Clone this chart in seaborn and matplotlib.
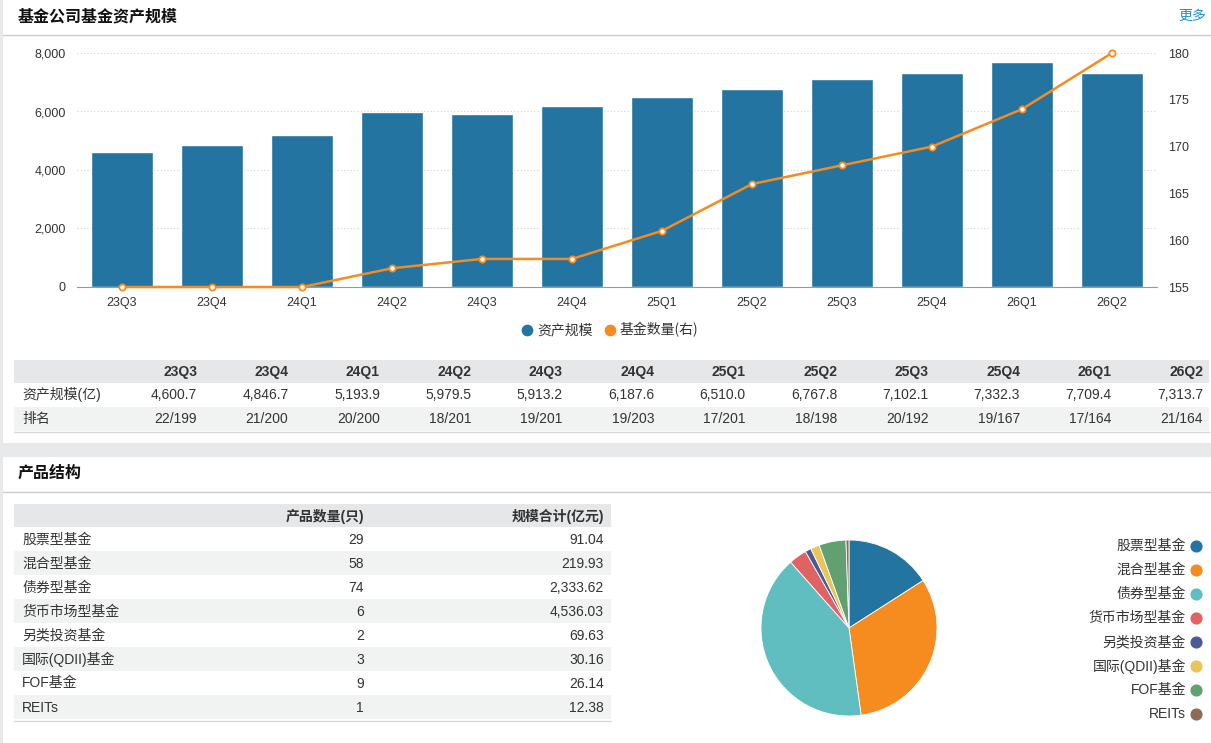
import matplotlib
matplotlib.use("Agg")
import matplotlib.pyplot as plt
from matplotlib.patches import Rectangle
import seaborn as sns
import numpy as np
import pandas as pd

# ---- data ----
quarters = ["23Q3", "23Q4", "24Q1", "24Q2", "24Q3", "24Q4",
            "25Q1", "25Q2", "25Q3", "25Q4", "26Q1", "26Q2"]
aum = [4600.7, 4846.7, 5193.9, 5979.5, 5913.2, 6187.6,
       6510.0, 6767.8, 7102.1, 7332.3, 7709.4, 7313.7]
fund_count = [155, 155, 155, 157, 158, 158, 161, 166, 168, 170, 174, 180]
rank = ["22/199", "21/200", "20/200", "18/201", "19/201", "19/203",
        "17/201", "18/198", "20/192", "19/167", "17/164", "21/164"]

product_types = ["股票型基金", "混合型基金", "债券型基金", "货币市场型基金",
                 "另类投资基金", "国际(QDII)基金", "FOF基金", "REITs"]
product_count = [29, 58, 74, 6, 2, 3, 9, 1]
product_scale = [91.04, 219.93, 2333.62, 4536.03, 69.63, 30.16, 26.14, 12.38]

BLUE = "#2374a0"
ORANGE = "#f68b1f"
pie_colors = ["#2374a0", "#f68b1f", "#60bec0", "#e06262",
              "#4b5a96", "#e8c65a", "#62a072", "#8c6c55"]

sns.set_style("white")
plt.rcParams['font.family'] = ['Liberation Sans', 'Noto Sans CJK SC', 'DejaVu Sans']
plt.rcParams['axes.unicode_minus'] = False

W, H = 1211, 743
fig = plt.figure(figsize=(W / 100, H / 100), dpi=100)
fig.patch.set_facecolor("#e8e9eb")


def px_rect(x0, y0, x1, y1):
    """pixel box (top-left origin) -> figure rect"""
    return [x0 / W, 1 - y1 / H, (x1 - x0) / W, (y1 - y0) / H]


# background layer in pixel coords
bg = fig.add_axes([0, 0, 1, 1], zorder=0)
bg.set_xlim(0, W)
bg.set_ylim(H, 0)
bg.axis("off")

TXT = "#333333"
CJK = ['Noto Sans CJK SC', 'DejaVu Sans']

# panels
bg.add_patch(Rectangle((3, 0), W - 3, 443, facecolor="white", edgecolor="none"))
bg.add_patch(Rectangle((3, 457), W - 3, H - 457, facecolor="white", edgecolor="none"))

# panel titles
bg.text(18, 16, "基金公司基金资产规模", fontsize=11.5, fontweight="bold",
        color="#111111", va="center", family=CJK)
bg.text(1206, 16, "更多", fontsize=10, color="#1a8fc8", va="center", ha="right", family=CJK)
bg.plot([3, W], [34.5, 34.5], color="#cccccc", lw=1)
bg.text(18, 473, "产品结构", fontsize=11.5, fontweight="bold",
        color="#111111", va="center", family=CJK)
bg.plot([3, W], [491.5, 491.5], color="#cccccc", lw=1)

# ---- bar + line chart ----
df = pd.DataFrame({"quarter": quarters, "aum": aum, "count": fund_count})

ax = fig.add_axes(px_rect(77, 53, 1157, 287), zorder=2)
ax.patch.set_alpha(0)
sns.barplot(data=df, x="quarter", y="aum", color=BLUE, saturation=1,
            width=0.69, ax=ax, zorder=2)
ax.set_xlim(-0.5, len(quarters) - 0.5)
ax.set_ylim(0, 8000)
ax.set_yticks([0, 2000, 4000, 6000, 8000])
ax.set_yticklabels([f"{v:,}" for v in [0, 2000, 4000, 6000, 8000]])
ax.yaxis.grid(True, linestyle=(0, (1, 2)), color="#d0d0d0", lw=0.8, zorder=0)
ax.set_axisbelow(True)
ax.set_xlabel("")
ax.set_ylabel("")
for s in ["top", "left", "right"]:
    ax.spines[s].set_visible(False)
ax.spines["bottom"].set_color("#999999")
ax.tick_params(axis="y", length=0, labelsize=9, labelcolor=TXT, pad=8)
ax.tick_params(axis="x", length=4, color="#999999", labelsize=9, labelcolor=TXT, pad=3)

ax2 = ax.twinx()
ax2.set_zorder(3)
sns.lineplot(x=np.arange(len(quarters)), y=fund_count, ax=ax2, color=ORANGE,
             lw=1.8, marker="o", markersize=4.5, markerfacecolor="white",
             markeredgecolor=ORANGE, markeredgewidth=1.3, clip_on=False)
ax2.set_ylim(155, 180)
ax2.set_yticks([155, 160, 165, 170, 175, 180])
for s in ["top", "left", "right", "bottom"]:
    ax2.spines[s].set_visible(False)
ax2.tick_params(axis="y", length=0, labelsize=9, labelcolor=TXT, pad=8)
ax2.grid(False)

# chart legend
bg.scatter([527], [330], s=55, color=BLUE, zorder=5)
bg.text(537, 330, "资产规模", fontsize=10, color=TXT, va="center", family=CJK)
bg.scatter([610], [330], s=55, color=ORANGE, zorder=5)
bg.text(620, 330, "基金数量(右)", fontsize=10, color=TXT, va="center", family=CJK)

# ---- quarterly table ----
HEAD_BG = "#e6e7e8"
ALT_BG = "#f1f2f2"
bg.add_patch(Rectangle((14, 360), W - 16, 23, facecolor=HEAD_BG, edgecolor="none"))
bg.add_patch(Rectangle((14, 407), W - 16, 24, facecolor=ALT_BG, edgecolor="none"))
bg.plot([14, W - 2], [431.5, 431.5], color="#d8d8d8", lw=1)
bg.text(22, 395, "资产规模(亿)", fontsize=10, color=TXT, va="center")
bg.text(22, 419, "排名", fontsize=10, color=TXT, va="center")
for i, q in enumerate(quarters):
    xr = 197 + 91.45 * i
    bg.text(xr, 372, q, fontsize=10, fontweight="bold", color=TXT, ha="right", va="center")
    bg.text(xr, 395, f"{aum[i]:,.1f}", fontsize=10, color=TXT, ha="right", va="center")
    bg.text(xr, 419, rank[i], fontsize=10, color=TXT, ha="right", va="center")

# ---- product table ----
bg.add_patch(Rectangle((14, 504), 597, 23, facecolor=HEAD_BG, edgecolor="none"))
bg.text(364, 516, "产品数量(只)", fontsize=10, fontweight="bold", color=TXT,
        ha="right", va="center")
bg.text(604, 516, "规模合计(亿元)", fontsize=10, fontweight="bold", color=TXT,
        ha="right", va="center")
for i, name in enumerate(product_types):
    y0 = 527 + 24 * i
    if i % 2 == 1:
        bg.add_patch(Rectangle((14, y0), 597, 24, facecolor=ALT_BG, edgecolor="none"))
    yc = y0 + 12.5
    bg.text(22, yc, name, fontsize=10, color=TXT, va="center")
    bg.text(364, yc, f"{product_count[i]}", fontsize=10, color=TXT, ha="right", va="center")
    bg.text(604, yc, f"{product_scale[i]:,.2f}", fontsize=10, color=TXT, ha="right", va="center")
bg.plot([14, 611], [720.5, 720.5], color="#d8d8d8", lw=1)

# ---- pie ----
axp = fig.add_axes(px_rect(761, 540, 937, 716), zorder=2)
axp.pie(product_count, colors=pie_colors, startangle=90, counterclock=False,
        wedgeprops=dict(edgecolor="white", linewidth=0.6))
axp.set_xlim(-1, 1)
axp.set_ylim(-1, 1)

for i, name in enumerate(product_types):
    yc = 546 + 24 * i
    bg.scatter([1196], [yc], s=60, color=pie_colors[i], zorder=5)
    bg.text(1186, yc, name, fontsize=10, color=TXT, ha="right", va="center")

plt.savefig("out.png", dpi=100)
plt.close()
